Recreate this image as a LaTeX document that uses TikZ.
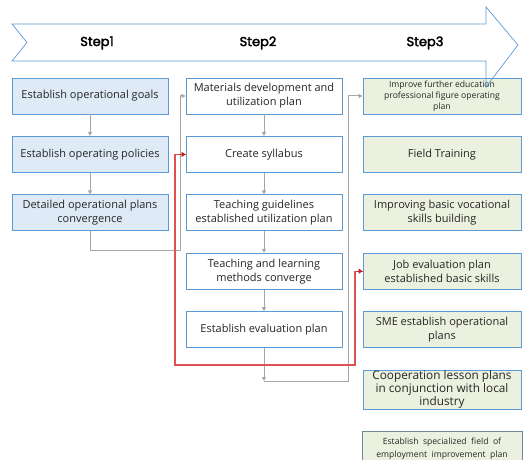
\documentclass[tikz,border=0pt]{standalone}
\usepackage{fontspec}
\setmainfont{Open Sans}
\newfontfamily\stepfont{Poppins}[FakeBold=2.5]
\newfontfamily\widefont{Open Sans}[WordSpace=2]
\usetikzlibrary{positioning, arrows.meta}
\definecolor{Frame}{HTML}{5B9BD5}
\definecolor{SkyFill}{HTML}{DEEBF7}
\definecolor{SageFill}{HTML}{EBF1DE}
\definecolor{Link}{HTML}{A6A6A6}
\definecolor{RedLink}{HTML}{E05050}
\definecolor{RedTip}{HTML}{C81E1E}
\tikzset{
    basebox/.style={rectangle, draw=Frame, line width=0.8pt, minimum width=156pt, minimum height=36pt,
        inner sep=1pt, align=center, text=black!85, font=\fontsize{11}{14}\selectfont},
    goalbox/.style={basebox, fill=SkyFill},
    planbox/.style={basebox, fill=white},
    outbox/.style={basebox, fill=SageFill, minimum width=158pt},
    steplabel/.style={font=\stepfont\fontsize{13}{15}\selectfont, text=black},
    link/.style={-{Triangle[length=4pt, width=4pt]}, line width=1pt, color=Link},
    redline/.style={line width=1.1pt, draw=RedLink},
    redtip/.style={-{Triangle[length=4pt, width=5pt]}, line width=1.1pt, color=RedTip},
}
\begin{document}
\begin{tikzpicture}[x=1pt, y=-1pt, node distance=21.6pt]
    \useasboundingbox (0,0) rectangle (523,460);

    % Step 1 column
    \node[goalbox] (g1) at (90,96) {Establish operational goals};
    \node[goalbox, below=of g1] (g2) {Establish operating policies};
    \node[goalbox, below=of g2] (g3) {Detailed operational plans\\convergence};

    % Step 2 column
    \node[planbox] (p1) at (264,96) {Materials development and\\utilization plan};
    \node[planbox, below=of p1] (p2) {Create syllabus};
    \node[planbox, below=of p2] (p3) {Teaching guidelines\\established utilization plan};
    \node[planbox, below=of p3] (p4) {Teaching and learning\\methods converge};
    \node[planbox, below=of p4] (p5) {Establish evaluation plan};

    % Step 3 column
    \node[outbox, font=\fontsize{8.6}{11}\selectfont] (o1) at (442,96) {Improve further education\\professional figure operating\\plan};
    \node[outbox, below=of o1] (o2) {Field Training};
    \node[outbox, below=of o2] (o3) {Improving basic vocational\\skills building};
    \node[outbox, below=of o3] (o4) {Job evaluation plan\\established basic skills};
    \node[outbox, below=of o4] (o5) {SME establish operational\\plans};
    \node[outbox, below=of o5, font=\fontsize{11.8}{12.6}\selectfont] (o6) {Cooperation lesson plans\\in conjunction with local\\industry};
    \node[outbox, below=of o6, minimum height=34pt, minimum width=160pt, draw=Frame!55!SageFill!70!black,
        font=\widefont\fontsize{8.6}{13}\selectfont] (o7) {Establish specialized field of\\employment improvement plan};

    % Links
    \draw[link] (g1) -- (g2);
    \draw[link] (g2) -- (g3);
    \foreach \a/\b in {p1/p2, p2/p3, p3/p4, p4/p5}
        \draw[link] (\a) -- (\b);

    \coordinate (bendA) at (180,250);
    \draw[link] (g3.south) |- (bendA) |- (p1.west);

    \coordinate (dropB) at (264,381);
    \coordinate (riseB) at (348,381);
    \draw[link] (p5.south) -- (dropB);
    \draw[link] (dropB) -- (riseB) |- (o1.west);

    % red feedback link, tips at both ends
    \coordinate (redA) at (175,365);
    \coordinate (redB) at (355,365);
    \draw[redline] (p2.west) -| (redA) -- (redB) |- (o4.west);
    \draw[redtip] ([xshift=-6pt]p2.west) -- (p2.west);
    \draw[redtip] ([xshift=-6pt]o4.west) -- (o4.west);

    % Step arrow
    \draw[Frame, line width=0.7pt, line join=miter]
        (12,24) -- (486,24) -- (486,7) -- (518,45) -- (486,87) -- (486,61) -- (12,61) -- (27,42.5) -- cycle;
    \node[steplabel] (s1) at (97,43) {Step1};
    \node[steplabel] (s2) at (258,43) {Step2};
    \node[steplabel] (s3) at (425,43) {Step3};
\end{tikzpicture}
\end{document}
